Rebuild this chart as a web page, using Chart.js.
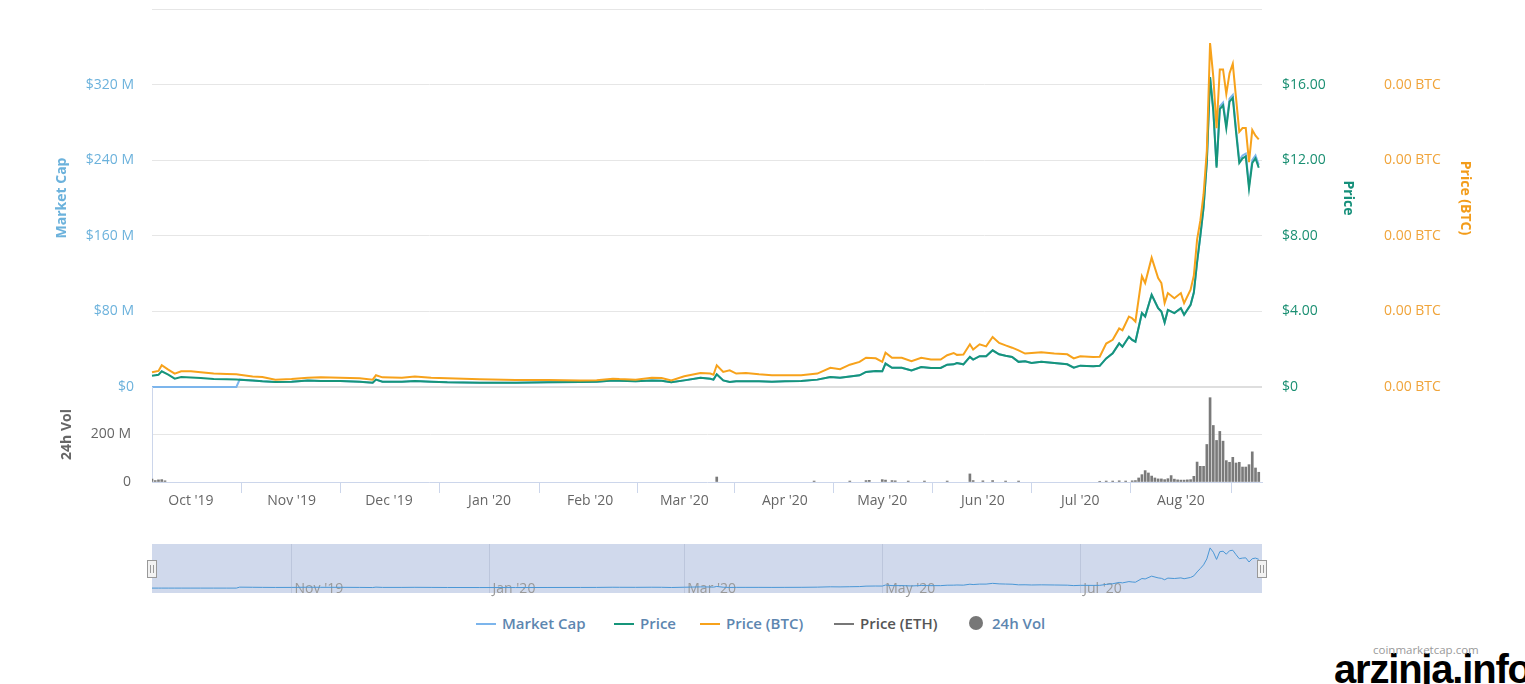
<!DOCTYPE html>
<html>
<head>
<meta charset="utf-8">
<script src="https://cdn.jsdelivr.net/npm/chart.js@4.4.1/dist/chart.umd.min.js"></script>
<style>
  html, body { margin: 0; padding: 0; background: #fff; }
  body { width: 1525px; height: 684px; overflow: hidden; position: relative; font-family: "Open Sans", sans-serif; }
  canvas { position: absolute; left: 0; }
  #mainChart { top: 0; }
  #volChart { top: 377px; }
  #navChart { top: 536px; }
  .lg { position: absolute; top: 613px; height: 20px; line-height: 20px; font-size: 15px; font-weight: 600; color: #5d86b0; white-space: nowrap; }
  .lg .sym { display: inline-block; width: 20px; height: 2px; vertical-align: middle; margin-right: 6px; position: relative; top: -1px; }
  .lg .dot { display: inline-block; width: 14px; height: 14px; border-radius: 50%; vertical-align: middle; margin-right: 9px; position: relative; top: -2px; }
  #wm1 { position: absolute; left: 1373px; top: 643px; font-size: 11.5px; line-height: 14px; color: #9a9a9a; font-family: "Open Sans", sans-serif; z-index: 5; }
  #wm2 { position: absolute; left: 1334px; top: 646px; font-size: 40px; line-height: 46px; font-weight: bold; color: #000; font-family: "Liberation Sans", Arial, sans-serif; letter-spacing: -1.2px; z-index: 4; }
</style>
</head>
<body>
<canvas id="mainChart" width="1525" height="400"></canvas>
<canvas id="volChart" width="1525" height="140"></canvas>
<canvas id="navChart" width="1525" height="70"></canvas>

<div class="lg" style="left:476px"><span class="sym" style="background:#7cb5ec"></span>Market Cap</div>
<div class="lg" style="left:614px"><span class="sym" style="background:#16957a"></span>Price</div>
<div class="lg" style="left:700px"><span class="sym" style="background:#f7a21b"></span>Price (BTC)</div>
<div class="lg" style="left:834px;color:#555"><span class="sym" style="background:#777"></span>Price (ETH)</div>
<div class="lg" style="left:969px"><span class="dot" style="background:#777"></span>24h Vol</div>
<div id="wm2">arzinja.info</div>
<div id="wm1">coinmarketcap.com</div>

<script>
// ---- DATA (day index: 0 = 19 Sep 2019) ----
const days = [0,2,3,5,7,9,12,15,19,23,26,27,31,34,38,43,48,52,58,64,68,69,71,77,81,86,91,101,112,122,132,137,142,144,149,154,157,160,164,169,172,173,174,176,178,180,183,187,191,195,200,205,209,212,215,218,220,223,225,226,228,231,234,237,240,243,245,247,248,250,252,253,255,257,259,261,263,265,267,269,271,274,278,282,284,286,290,292,294,296,298,299,301,302,303,305,306,308,310,311,312,313,315,317,318,320,321,322,323,324,325,326,327,328,329,330,331,332,333,334,335,336,337,338,339,340,341];

const priceUsd = [0.60,0.65,0.83,0.65,0.44,0.53,0.50,0.48,0.42,0.41,0.40,0.39,0.34,0.30,0.27,0.28,0.35,0.32,0.32,0.28,0.23,0.39,0.28,0.28,0.32,0.28,0.25,0.23,0.23,0.25,0.27,0.28,0.35,0.33,0.31,0.35,0.33,0.25,0.35,0.49,0.44,0.39,0.67,0.35,0.26,0.30,0.30,0.30,0.28,0.30,0.32,0.39,0.53,0.49,0.56,0.62,0.80,0.85,0.83,1.24,1.02,1.02,0.88,1.06,1.01,1.01,1.18,1.20,1.27,1.20,1.59,1.45,1.63,1.63,1.94,1.73,1.65,1.59,1.33,1.36,1.27,1.33,1.27,1.20,1.02,1.13,1.10,1.12,1.51,1.78,2.31,2.13,2.66,2.49,2.40,3.91,3.73,4.88,4.17,3.99,3.41,4.08,3.91,4.17,3.82,4.35,5.00,6.60,8.00,9.50,11.90,16.40,14.60,11.60,14.70,14.90,13.70,15.10,15.30,13.50,11.85,12.10,12.20,10.50,11.85,12.10,11.60];

const priceBtc = [0.0000780,0.0000850,0.0001150,0.0000920,0.0000710,0.0000830,0.0000830,0.0000780,0.0000710,0.0000690,0.0000670,0.0000650,0.0000560,0.0000530,0.0000390,0.0000420,0.0000490,0.0000510,0.0000490,0.0000460,0.0000390,0.0000620,0.0000510,0.0000490,0.0000560,0.0000490,0.0000460,0.0000410,0.0000370,0.0000370,0.0000350,0.0000360,0.0000440,0.0000420,0.0000390,0.0000490,0.0000480,0.0000350,0.0000570,0.0000740,0.0000710,0.0000650,0.0001150,0.0000800,0.0000880,0.0000710,0.0000740,0.0000670,0.0000620,0.0000620,0.0000620,0.0000710,0.0001020,0.0000940,0.0001180,0.0001330,0.0001550,0.0001520,0.0001330,0.0001820,0.0001550,0.0001550,0.0001370,0.0001550,0.0001460,0.0001450,0.0001680,0.0001800,0.0001700,0.0001720,0.0002260,0.0001980,0.0002260,0.0002150,0.0002650,0.0002330,0.0002200,0.0002080,0.0001940,0.0001770,0.0001800,0.0001840,0.0001770,0.0001730,0.0001510,0.0001630,0.0001590,0.0001600,0.0002300,0.0002500,0.0003100,0.0003000,0.0003730,0.0003640,0.0003460,0.0005860,0.0005500,0.0006840,0.0005770,0.0005500,0.0004440,0.0004970,0.0004700,0.0004970,0.0004440,0.0005150,0.0005900,0.0007800,0.0008800,0.0010200,0.0012500,0.0018200,0.0016400,0.0013700,0.0016800,0.0016800,0.0015500,0.0016600,0.0017100,0.0015300,0.0013500,0.0013700,0.0013700,0.0011900,0.0013600,0.0013300,0.0013100];

const marketCapM = [0,0,0,0,0,0,0,0,0,0,0,7.8,6.8,6.0,5.4,5.6,7.0,6.4,6.4,5.6,4.6,7.8,5.6,5.6,6.4,5.6,5.0,4.6,4.6,5.0,5.4,5.6,7.0,6.6,6.2,7.0,6.6,5.0,7.0,9.8,8.8,7.8,13.4,7.0,5.2,6.0,6.0,6.0,5.6,6.0,6.4,7.8,10.6,9.8,11.2,12.4,16.0,17.0,16.6,24.8,20.4,20.4,17.6,21.2,20.2,20.2,23.6,24.0,25.4,24.0,31.8,29.0,32.6,32.6,38.8,34.6,33.0,31.8,26.6,27.2,25.4,26.6,25.4,24.0,20.4,22.6,22.0,22.4,30.2,35.6,46.2,42.6,53.2,49.8,48.0,78.2,74.6,97.6,83.4,79.8,68.2,81.6,78.2,83.4,76.4,87.0,100,132,160,190,238,328,293,234,297,301,277,305,309,273,240,245,247,213,240,245,235];

const volDays = [0,1,2,3,4,174,204,215,220,221,225,226,228,229,233,238,245,252,253,256,259,263,267,292,294,296,298,300,302,303,304,305,306,307,308,309,310,311,312,313,314,315,316,317,318,319,320,321,322,323,324,325,326,327,328,329,330,331,332,333,334,335,336,337,338,339,340,341];
const volM = [12,6,9,10,5,21,4,4,6,7,10,8,6,5,4,4,4,34,6,5,6,4,4,3,4,4,5,4,5,6,17,31,48,38,25,17,13,13,10,14,27,12,9,8,8,9,10,24,84,66,66,158,355,238,175,213,172,90,83,104,80,83,63,63,73,127,59,41];

const monthDays = [12,43,73,104,135,164,195,225,256,286,317];
const monthLabels = ["Oct '19","Nov '19","Dec '19","Jan '20","Feb '20","Mar '20","Apr '20","May '20","Jun '20","Jul '20","Aug '20"];
const navDays = [43,104,164,225,286];
const navLabels = ["Nov '19","Jan '20","Mar '20","May '20","Jul '20"];
const firstDay = 0, lastDay = 342;

// ---- STYLE ----
Chart.defaults.font.family = "'Open Sans', sans-serif";
Chart.defaults.font.size = 14;
Chart.defaults.animation = false;
Chart.defaults.plugins.legend.display = false;
Chart.defaults.plugins.tooltip.enabled = false;

const C_MCAP = '#7cb5ec', C_PRICE = '#16957a', C_BTC = '#f7a21b', C_VOL = '#7a7a7a';
const pts = (xs, ys) => xs.map((d, i) => ({ x: d, y: ys[i] }));
const fixV = w => s => { s.width = w; s.paddingTop = 0; s.paddingBottom = 0; };

// ---- MAIN CHART ----
new Chart(document.getElementById('mainChart'), {
  type: 'line',
  data: {
    datasets: [
      { label: 'Market Cap', data: pts(days, marketCapM), yAxisID: 'yMcap', borderColor: C_MCAP, borderWidth: 2, pointRadius: 0, tension: 0, order: 3, clip: 4 },
      { label: 'Price', data: pts(days, priceUsd), yAxisID: 'yPrice', borderColor: C_PRICE, borderWidth: 2, pointRadius: 0, tension: 0, order: 2, clip: 4 },
      { label: 'Price (BTC)', data: pts(days, priceBtc), yAxisID: 'yBtc', borderColor: C_BTC, borderWidth: 2, pointRadius: 0, tension: 0, order: 1, clip: 4 }
    ]
  },
  options: {
    responsive: false,
    devicePixelRatio: 1,
    layout: { padding: { left: 54, right: 52, top: 9, bottom: 13 } },
    scales: {
      x: { type: 'linear', min: firstDay, max: lastDay, display: false },
      yMcap: {
        position: 'left', min: 0, max: 400,
        ticks: { stepSize: 80, padding: 18, color: '#6cb2dc',
          callback: (v, i, t) => i === t.length - 1 ? '' : '$' + v + (v === 0 ? '' : ' M') },
        grid: { drawTicks: false, color: c => c.tick && c.tick.value === 0 ? '#dedede' : '#e6e6e6', lineWidth: c => c.tick && c.tick.value === 0 ? 2 : 1 },
        border: { display: false },
        title: { display: true, text: 'Market Cap', color: '#6cb2dc', font: { size: 14, weight: 'bold' }, padding: { top: 0, bottom: 0 } },
        afterFit: fixV(98)
      },
      yPrice: {
        position: 'right', min: 0, max: 20,
        ticks: { stepSize: 4, padding: 20, color: '#1a8f72',
          callback: (v, i, t) => i === t.length - 1 ? '' : (v === 0 ? '$0' : '$' + v.toFixed(2)) },
        grid: { display: false, drawTicks: false },
        border: { display: false },
        title: { display: true, text: 'Price', color: '#16907a', font: { size: 14, weight: 'bold' }, padding: { top: 0, bottom: 0 } },
        afterFit: fixV(94)
      },
      yBtc: {
        position: 'right', min: 0, max: 0.002,
        ticks: { stepSize: 0.0004, padding: 28, color: '#f0a43a',
          callback: (v, i, t) => i === t.length - 1 ? '' : v.toFixed(2) + ' BTC' },
        grid: { display: false, drawTicks: false },
        border: { display: false },
        title: { display: true, text: 'Price (BTC)', color: '#f39c1a', font: { size: 14, weight: 'bold' }, padding: { top: 0, bottom: 0 } },
        afterFit: fixV(117)
      }
    }
  }
});

// ---- VOLUME CHART ----
new Chart(document.getElementById('volChart'), {
  type: 'bar',
  data: {
    datasets: [{ label: '24h Vol', data: pts(volDays, volM), backgroundColor: C_VOL, barThickness: 2, yAxisID: 'yVol' }]
  },
  options: {
    responsive: false,
    devicePixelRatio: 1,
    layout: { padding: { left: 54, right: 263, top: 10, bottom: 0 } },
    scales: {
      x: {
        type: 'linear', min: firstDay, max: lastDay, offset: false,
        afterBuildTicks: a => { a.ticks = monthDays.map(v => ({ value: v })); },
        ticks: { autoSkip: false, maxRotation: 0, padding: 0, color: '#666', font: { size: 14 },
          callback: (v, i) => monthLabels[i] },
        grid: { drawOnChartArea: false, drawTicks: true, tickLength: 11, color: '#ccd6eb' },
        border: { display: true, color: '#ccd6eb' },
        afterFit: s => { s.height = 35; }
      },
      yVol: {
        position: 'left', min: 0, max: 400,
        ticks: { stepSize: 200, padding: 21, color: '#666',
          callback: (v, i, t) => i === t.length - 1 ? '' : (v === 0 ? '0' : v + ' M') },
        grid: { drawTicks: false, color: c => c.tick && (c.tick.value === 200) ? '#e6e6e6' : 'rgba(0,0,0,0)' },
        border: { display: true, color: '#ccd6eb' },
        title: { display: true, text: '24h Vol', color: '#666', font: { size: 14, weight: 'bold' }, padding: { top: 5, bottom: 0 } },
        afterFit: fixV(98)
      }
    }
  }
});

// ---- NAVIGATOR ----
const navDecor = {
  id: 'navDecor',
  beforeDraw(chart) {
    const { ctx, chartArea: a } = chart;
    ctx.save();
    ctx.fillStyle = '#d0d9ec';
    ctx.fillRect(a.left, a.top, a.right - a.left, a.bottom - a.top);
    ctx.restore();
  },
  afterDraw(chart) {
    const { ctx, chartArea: a, scales: { x } } = chart;
    const yc = (a.top + a.bottom) / 2 + 0.5;
    [x.getPixelForValue(x.min), x.getPixelForValue(x.max)].forEach(px => {
      const p = Math.round(px);
      ctx.save();
      ctx.fillStyle = '#f2f2f2';
      ctx.strokeStyle = '#999';
      ctx.lineWidth = 1;
      ctx.fillRect(p - 4, yc - 8, 8, 16);
      ctx.strokeRect(p - 4.5, yc - 8.5, 9, 17);
      ctx.beginPath();
      ctx.moveTo(p - 1.5, yc - 4); ctx.lineTo(p - 1.5, yc + 4);
      ctx.moveTo(p + 1.5, yc - 4); ctx.lineTo(p + 1.5, yc + 4);
      ctx.stroke();
      ctx.restore();
    });
  }
};
new Chart(document.getElementById('navChart'), {
  type: 'line',
  data: { datasets: [{ label: 'Market Cap', data: pts(days, marketCapM), borderColor: '#4a97d6', borderWidth: 1, pointRadius: 0, tension: 0 }] },
  options: {
    responsive: false,
    devicePixelRatio: 1,
    layout: { padding: { left: 152, right: 263, top: 8, bottom: 0 } },
    scales: {
      x: {
        type: 'linear', min: firstDay, max: lastDay,
        afterBuildTicks: a => { a.ticks = navDays.map(v => ({ value: v })); },
        ticks: { autoSkip: false, maxRotation: 0, mirror: true, align: 'start', padding: -4, labelOffset: 3, color: '#999', font: { size: 14 },
          callback: (v, i) => navLabels[i] },
        grid: { drawTicks: false, color: '#bcc6dc' },
        border: { display: false },
        afterFit: s => { s.height = 13; }
      },
      y: { min: -40, max: 360, display: false }
    }
  },
  plugins: [navDecor]
});
</script>
</body>
</html>
